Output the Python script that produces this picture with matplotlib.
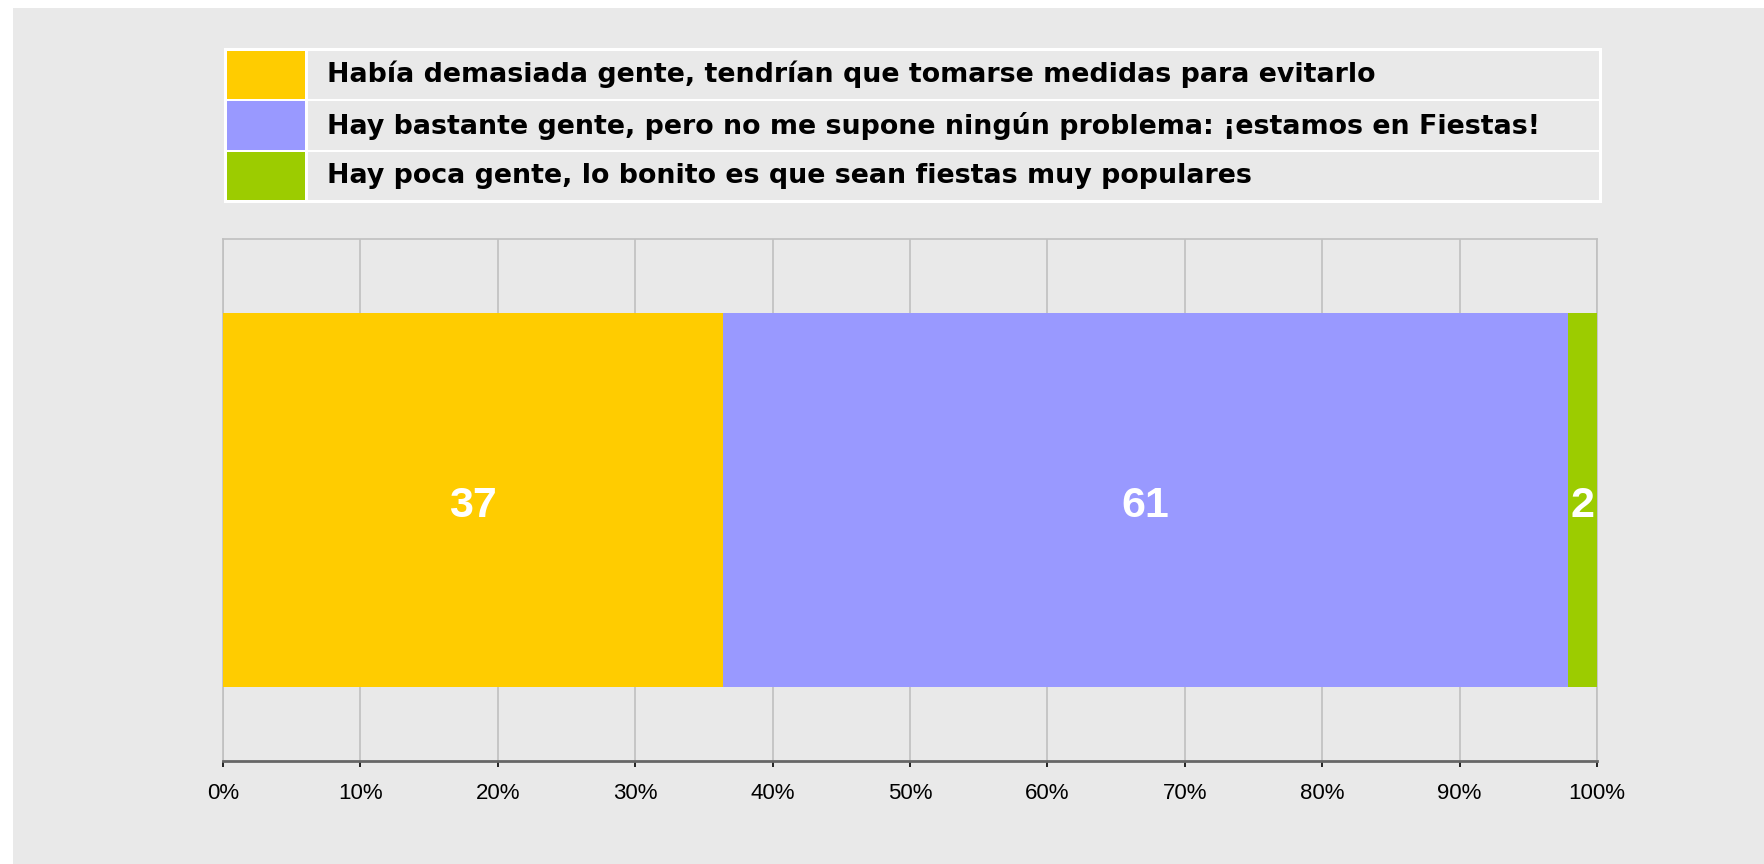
import matplotlib
matplotlib.use('Agg')
import matplotlib.pyplot as plt
from matplotlib.patches import Rectangle
from matplotlib.ticker import PercentFormatter

categories = [
    'Había demasiada gente, tendrían que tomarse medidas para evitarlo',
    'Hay bastante gente, pero no me supone ningún problema: ¡estamos en Fiestas!',
    'Hay poca gente, lo bonito es que sean fiestas muy populares',
]
values = [36.4, 61.5, 2.1]
value_labels = ['37', '61', '2']
colors = ['#FFCC00', '#9999FF', '#9CCC00']
ticks = [0, 10, 20, 30, 40, 50, 60, 70, 80, 90, 100]

W, H = 1765, 864
BG = '#E9E9E9'

fig = plt.figure(figsize=(W / 100, H / 100), dpi=100)
fig.patch.set_facecolor('white')
fig.patches.append(Rectangle((13 / W, 0), 1, 1 - 8 / H, transform=fig.transFigure,
                             facecolor=BG, edgecolor='none', zorder=-10))

# main plot area
ax = fig.add_axes([223 / W, 1 - 761 / H, (1597 - 223) / W, (761 - 239) / H])
ax.set_facecolor(BG)
left = 0
for v, lab, c in zip(values, value_labels, colors):
    ax.barh(0, v, left=left, height=0.7165, color=c, edgecolor='none', zorder=3)
    ax.annotate(lab, (left + v / 2, 0), xytext=(0, -4), textcoords='offset points',
                ha='center', va='center', color='white',
                fontsize=31, fontweight='bold', family='Liberation Sans', zorder=4)
    left += v

ax.set_xlim(0, 100)
ax.set_ylim(-0.5, 0.5)
ax.set_xticks(ticks)
ax.xaxis.set_major_formatter(PercentFormatter(decimals=0))
ax.set_yticks([])
ax.grid(axis='x', color='#C0C0C0', linewidth=1.2, zorder=0)
for s in ['top', 'left', 'right']:
    ax.spines[s].set_color('#C0C0C0')
    ax.spines[s].set_linewidth(1.2)
ax.spines['bottom'].set_color('#666666')
ax.spines['bottom'].set_linewidth(2)
ax.tick_params(axis='x', direction='out', length=4.5, width=1.2, color='black', pad=11.5)
for t in ax.get_xticklabels():
    t.set_family('Liberation Sans')
    t.set_fontsize(16)

# legend drawn as a table of cells
lw, lh = 1602 - 224, 203 - 48
lax = fig.add_axes([224 / W, 1 - 203 / H, lw / W, lh / H])
lax.set_xlim(0, lw)
lax.set_ylim(lh, 0)
lax.axis('off')
lax.add_patch(Rectangle((0, 0), lw, lh, facecolor='white', edgecolor='none'))
g = 2.5
rowh = (lh - g) / 3
sw = 81
for i, (cat, c) in enumerate(zip(categories, colors)):
    y0 = g + i * rowh
    lax.add_patch(Rectangle((g, y0), sw - g, rowh - g, facecolor=c, edgecolor='none'))
    lax.add_patch(Rectangle((sw + g, y0), lw - sw - 2 * g, rowh - g, facecolor=BG, edgecolor='none'))
    lax.text(sw + 22, y0 + (rowh - g) / 2, cat, ha='left', va='center',
             fontsize=19.4, fontweight='bold', family='DejaVu Sans', color='black')

fig.savefig('out.png', dpi=100)
